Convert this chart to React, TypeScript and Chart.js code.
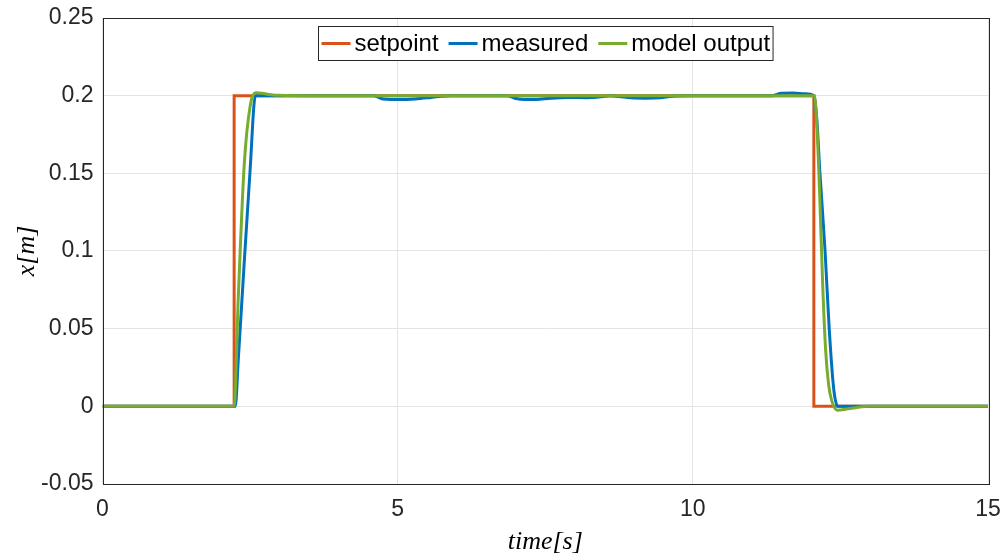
import React, { useEffect, useRef } from "react";
import { Chart, registerables } from "chart.js";

Chart.register(...registerables);

const seriesLabels = ["setpoint", "measured", "model output"];
const seriesColors = ["#D95319", "#0072BD", "#77AC30"];

const setpointTime = [0, 2.23, 2.23, 12.05, 12.05, 15];
const setpointValue = [0, 0, 0.2, 0.2, 0, 0];

const measuredTime = [
  0, 0.5, 1.0, 1.5, 2.0, 2.25, 2.3, 2.4, 2.5, 2.59, 2.7, 3.0, 3.5, 4.0, 4.6, 4.75, 4.9, 5.05, 5.3, 5.5,
  5.7, 5.9, 6.5, 6.85, 7.0, 7.15, 7.35, 7.6, 7.9, 8.2, 8.45, 8.6, 8.75, 8.95, 9.2, 9.45, 9.65, 10.0, 10.5,
  11.0, 11.35, 11.5, 11.7, 11.9, 12.05, 12.1, 12.15, 12.24, 12.31, 12.39, 12.46, 12.7, 13.0, 14.0, 15.0,
];
const measuredValue = [
  0, 0, 0, 0, 0, 0, 0.03, 0.092, 0.152, 0.2, 0.2, 0.2, 0.2, 0.2, 0.2, 0.1978, 0.1975, 0.1975, 0.1979, 0.1986,
  0.1995, 0.2, 0.2, 0.2, 0.1982, 0.1975, 0.1976, 0.1984, 0.1988, 0.1987, 0.1993, 0.2, 0.1995, 0.1986, 0.1984, 0.1987, 0.1997, 0.2, 0.2,
  0.2, 0.2, 0.2016, 0.2017, 0.2012, 0.2, 0.185, 0.152, 0.1, 0.05, 0.01, 0, 0, 0, 0, 0,
];

const modelTime = [
  0, 2.23, 2.3, 2.4, 2.5, 2.6, 2.7, 2.85, 3.0, 3.5, 12.06, 12.1, 12.15, 12.2, 12.25, 12.3, 12.35, 12.45, 12.6,
  12.8, 13.0, 15.0,
];
const modelValue = [
  0, 0, 0.07, 0.155, 0.193, 0.2018, 0.2015, 0.2006, 0.2002, 0.2, 0.2, 0.182, 0.135, 0.078, 0.036, 0.014, 0.004,
  -0.0025, -0.0018, -0.0006, 0, 0,
];

const xTicks = [0, 5, 10, 15];
const yTicks = [-0.05, 0, 0.05, 0.1, 0.15, 0.2, 0.25];
const yTickLabels = ["-0.05", "0", "0.05", "0.1", "0.15", "0.2", "0.25"];

const toPoints = (t: number[], v: number[]) => t.map((x, i) => ({ x, y: v[i] }));

const boxAndLegend = {
  id: "boxAndLegend",
  afterDraw(chart: any) {
    const { ctx, chartArea } = chart;
    const { left, top, right, bottom } = chartArea;
    ctx.save();
    ctx.strokeStyle = "#262626";
    ctx.lineWidth = 1;
    ctx.strokeRect(Math.round(left) + 0.5, Math.round(top) + 0.5, Math.round(right - left), Math.round(bottom - top));

    // legend
    ctx.font = "24px 'Liberation Sans', Arial, sans-serif";
    const lineLen = 29;
    const gapLT = 4;
    const gapItems = 10;
    const pad = 3;
    const labels = chart.data.datasets.map((d: any) => d.label);
    const widths = labels.map((l: string) => ctx.measureText(l).width);
    let total = pad * 2;
    widths.forEach((w: number, i: number) => {
      total += lineLen + gapLT + w + (i < widths.length - 1 ? gapItems : 0);
    });
    const boxH = 34;
    const cx = (left + right) / 2;
    const bx = Math.round(cx - total / 2) + 0.5;
    const by = 26.5;
    ctx.fillStyle = "#ffffff";
    ctx.fillRect(bx, by, total, boxH);
    ctx.strokeStyle = "#262626";
    ctx.strokeRect(bx, by, total, boxH);
    let x = bx + pad;
    const cy = by + boxH / 2;
    labels.forEach((l: string, i: number) => {
      ctx.strokeStyle = chart.data.datasets[i].borderColor;
      ctx.lineWidth = 3;
      ctx.beginPath();
      ctx.moveTo(x, cy);
      ctx.lineTo(x + lineLen, cy);
      ctx.stroke();
      x += lineLen + gapLT;
      ctx.fillStyle = "#000000";
      ctx.textBaseline = "middle";
      ctx.textAlign = "left";
      ctx.fillText(l, x, cy + 1);
      x += widths[i] + gapItems;
    });
    ctx.restore();
  },
};

export default function App() {
  const canvasRef = useRef<HTMLCanvasElement | null>(null);

  useEffect(() => {
    const canvas = canvasRef.current;
    if (!canvas) return;
    const tickFont = { family: "'Liberation Sans', Arial, sans-serif", size: 23 };
    const titleFont = { family: "'Liberation Serif', 'Times New Roman', serif", size: 26, style: "italic" as const };
    const chart = new Chart(canvas, {
      type: "line",
      data: {
        datasets: [
          {
            label: seriesLabels[0],
            data: toPoints(setpointTime, setpointValue),
            borderColor: seriesColors[0],
            backgroundColor: seriesColors[0],
            borderWidth: 3,
            pointRadius: 0,
            tension: 0,
            order: 3,
          },
          {
            label: seriesLabels[1],
            data: toPoints(measuredTime, measuredValue),
            borderColor: seriesColors[1],
            backgroundColor: seriesColors[1],
            borderWidth: 3,
            pointRadius: 0,
            cubicInterpolationMode: "monotone",
            order: 2,
          },
          {
            label: seriesLabels[2],
            data: toPoints(modelTime, modelValue),
            borderColor: seriesColors[2],
            backgroundColor: seriesColors[2],
            borderWidth: 3,
            pointRadius: 0,
            cubicInterpolationMode: "monotone",
            order: 1,
          },
        ],
      },
      options: {
        animation: false,
        responsive: false,
        layout: { padding: { left: 0, top: 18, right: 18, bottom: 0 } },
        plugins: { legend: { display: false }, tooltip: { enabled: false } },
        scales: {
          x: {
            type: "linear",
            min: 0,
            max: 15,
            afterBuildTicks: (scale: any) => {
              scale.ticks = xTicks.map((v) => ({ value: v }));
            },
            afterFit: (scale: any) => {
              scale.height = 72;
              scale.paddingLeft = 0;
              scale.paddingRight = 0;
            },
            ticks: {
              font: tickFont,
              color: "#262626",
              padding: 12,
              maxRotation: 0,
              callback: (v: any) => String(v),
            },
            grid: { color: "#e4e4e4", drawTicks: false, lineWidth: 1 },
            border: { display: false },
            title: {
              display: true,
              text: "time[s]",
              font: titleFont,
              color: "#000000",
              padding: { top: 0, bottom: -2 },
            },
          },
          y: {
            type: "linear",
            min: -0.05,
            max: 0.25,
            afterBuildTicks: (scale: any) => {
              scale.ticks = yTicks.map((v) => ({ value: v }));
            },
            afterFit: (scale: any) => {
              scale.width = 102.5;
              scale.paddingTop = 0;
              scale.paddingBottom = 0;
            },
            ticks: {
              font: tickFont,
              color: "#262626",
              padding: 9,
              callback: (v: any) => {
                const i = yTicks.findIndex((t) => Math.abs(t - v) < 1e-9);
                return i >= 0 ? yTickLabels[i] : "";
              },
            },
            grid: { color: "#e4e4e4", drawTicks: false, lineWidth: 1 },
            border: { display: false },
            title: {
              display: true,
              text: "x[m]",
              font: titleFont,
              color: "#000000",
              padding: { top: 12, bottom: 0 },
            },
          },
        },
      },
      plugins: [boxAndLegend],
    });
    return () => chart.destroy();
  }, []);

  return (
    <canvas
      ref={canvasRef}
      width={1006}
      height={556}
      style={{ position: "absolute", left: 0, top: 0, width: 1006, height: 556, display: "block" }}
    />
  );
}
